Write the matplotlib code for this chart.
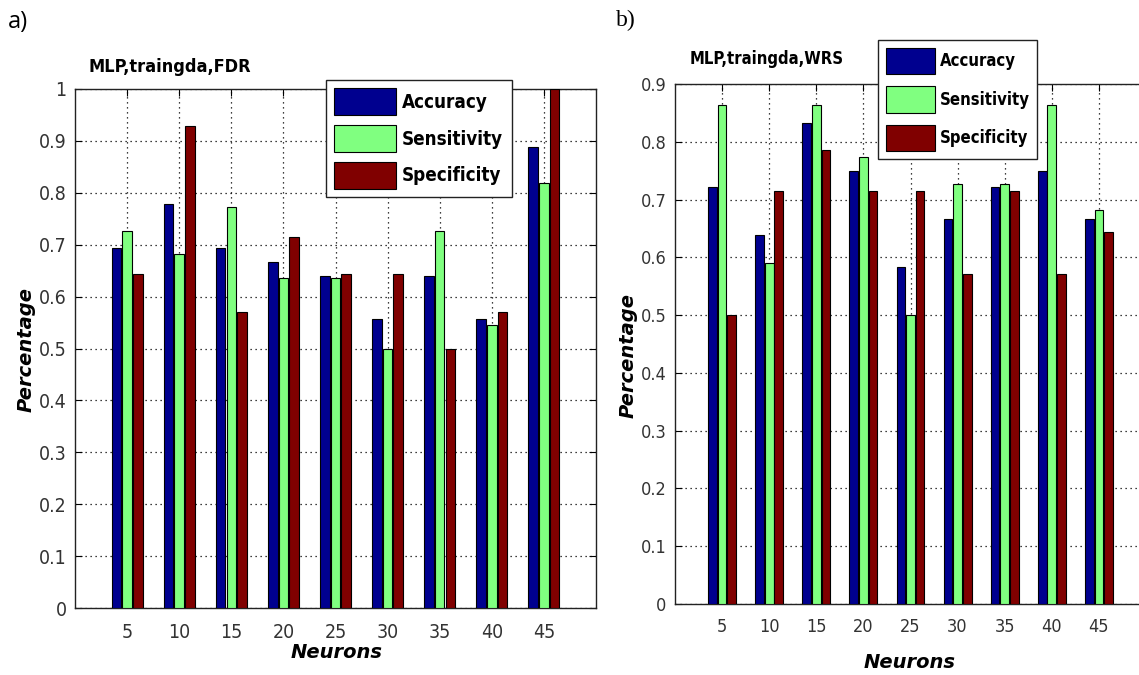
import numpy as np
import matplotlib
matplotlib.use('Agg')
import matplotlib.pyplot as plt
from matplotlib.patches import Patch

neurons = [5, 10, 15, 20, 25, 30, 35, 40, 45]
series = ['Accuracy', 'Sensitivity', 'Specificity']

# a) FDR
fdr_acc = [0.694, 0.778, 0.694, 0.667, 0.639, 0.556, 0.639, 0.556, 0.889]
fdr_sens = [0.727, 0.682, 0.773, 0.636, 0.636, 0.500, 0.727, 0.545, 0.818]
fdr_spec = [0.643, 0.929, 0.571, 0.714, 0.643, 0.643, 0.500, 0.571, 1.000]

# b) WRS
wrs_acc = [0.722, 0.639, 0.833, 0.750, 0.583, 0.667, 0.722, 0.750, 0.667]
wrs_sens = [0.864, 0.591, 0.864, 0.773, 0.500, 0.727, 0.727, 0.864, 0.682]
wrs_spec = [0.500, 0.714, 0.786, 0.714, 0.714, 0.571, 0.714, 0.571, 0.643]

colors = ['#00008f', '#80ff80', '#800000']
cond = dict(family='DejaVu Sans', stretch='condensed')

W, H = 1139, 675
fig = plt.figure(figsize=(W / 100, H / 100), dpi=100)


def px(x, y):
    return x / W, 1 - y / H


def panel(rect, acc, sens, spec, ymax, yticks, tick_fs, xpad):
    ax = fig.add_axes(rect)
    x = np.array(neurons, dtype=float)
    for k, vals in enumerate([acc, sens, spec]):
        ax.bar(x + (k - 1) * 1.02, vals, width=0.92, color=colors[k],
               edgecolor='black', linewidth=0.8, zorder=3)
    ax.set_xlim(0, 50)
    ax.set_ylim(0, ymax)
    ax.set_xticks(neurons)
    ax.set_yticks(yticks)
    ax.set_yticklabels(['%g' % t for t in yticks])
    ax.set_axisbelow(True)
    ax.grid(True, linestyle=(0, (1, 3)), color='black', linewidth=0.9)
    ax.tick_params(direction='in', length=5, top=True, right=True,
                   labelsize=tick_fs, labelcolor='#333333', pad=6)
    ax.tick_params(axis='x', pad=xpad)
    for lab in ax.get_xticklabels() + ax.get_yticklabels():
        lab.set_family('DejaVu Sans')
        lab.set_stretch('condensed')
    for s in ax.spines.values():
        s.set_linewidth(1.0)
        s.set_color('#222222')
    return ax


axa = panel([75 / W, 1 - 608 / H, 521 / W, 519 / H], fdr_acc, fdr_sens, fdr_spec,
            1.0, np.round(np.arange(0, 1.01, 0.1), 1), 14, 11)
axb = panel([675 / W, 1 - 604 / H, 471 / W, 520 / H], wrs_acc, wrs_sens, wrs_spec,
            0.9, np.round(np.arange(0, 0.91, 0.1), 1), 13, 10)

handles = [Patch(facecolor=c, edgecolor='black', linewidth=0.8) for c in colors]
leg_a = fig.legend(handles, series, loc='upper left', bbox_to_anchor=px(326, 80),
                   bbox_transform=fig.transFigure, fancybox=False, framealpha=1,
                   edgecolor='#222222', handlelength=3.3, handleheight=1.8,
                   labelspacing=0.55, handletextpad=0.3, borderpad=0.45,
                   borderaxespad=0, prop=dict(cond, weight='bold', size=13.5))
leg_a.get_frame().set_linewidth(1.0)
leg_b = fig.legend(handles, series, loc='upper left', bbox_to_anchor=px(878, 40),
                   bbox_transform=fig.transFigure, fancybox=False, framealpha=1,
                   edgecolor='#222222', handlelength=2.95, handleheight=2.1,
                   labelspacing=0.7, handletextpad=0.3, borderpad=0.45,
                   borderaxespad=0, prop=dict(cond, weight='bold', size=12))
leg_b.get_frame().set_linewidth(1.0)

fig.text(*px(88, 67), 'MLP,traingda,FDR', weight='bold', size=13,
         ha='left', va='center', **cond)
fig.text(*px(690, 59), 'MLP,traingda,WRS', weight='bold', size=12,
         ha='left', va='center', **cond)

fig.text(*px(26, 350), 'Percentage', rotation=90, weight='bold', style='italic',
         size=14, ha='center', va='center')
fig.text(*px(628, 355), 'Percentage', rotation=90, weight='bold', style='italic',
         size=14, ha='center', va='center')
fig.text(*px(337, 652), 'Neurons', weight='bold', style='italic', size=14,
         ha='center', va='center')
fig.text(*px(910, 662), 'Neurons', weight='bold', style='italic', size=14,
         ha='center', va='center')

fig.text(*px(8, 22), 'a)', family='Open Sans', size=17, ha='left', va='center')
fig.text(*px(616, 20), 'b)', family='Liberation Serif', size=17, ha='left', va='center')

plt.savefig('out.png', dpi=100)
